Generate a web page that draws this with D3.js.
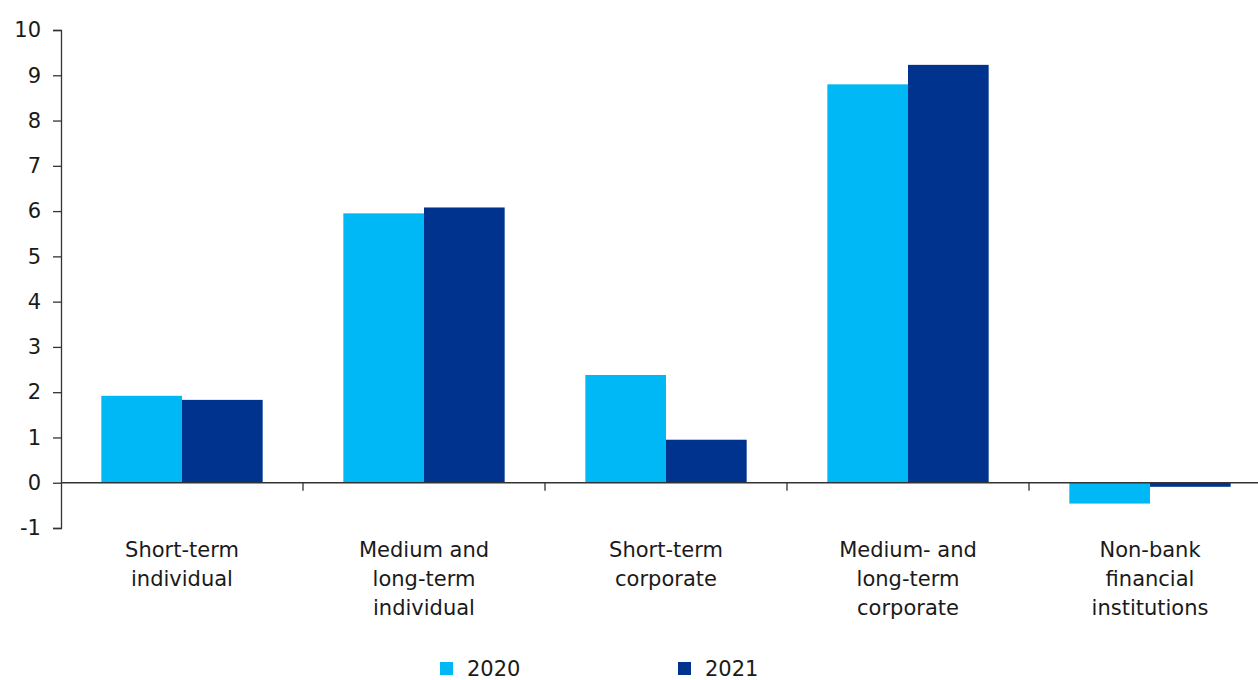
<!DOCTYPE html>
<html>
<head>
<meta charset="utf-8">
<script src="https://cdn.jsdelivr.net/npm/d3@7"></script>
<style>
  html, body { margin: 0; padding: 0; background: #fff; }
  svg { display: block; }
  text { font-family: "DejaVu Sans", sans-serif; fill: #1a1a1a; }
</style>
</head>
<body>
<svg id="chart" width="1258" height="680"></svg>
<script>
// Loan categories (multi-line labels) and yearly growth values
const categories = [
  ["Short-term", "individual"],
  ["Medium and", "long-term", "individual"],
  ["Short-term", "corporate"],
  ["Medium- and", "long-term", "corporate"],
  ["Non-bank", "financial", "institutions"]
];
const seriesNames = ["2020", "2021"];
const values2020 = [1.92, 5.95, 2.38, 8.80, -0.46];
const values2021 = [1.83, 6.08, 0.95, 9.23, -0.09];
const yTicks = [-1, 0, 1, 2, 3, 4, 5, 6, 7, 8, 9, 10];
const colors = ["#00B8F5", "#00338D"];

const svg = d3.select("#chart");
const catKeys = categories.map(c => c.join(" "));
const seriesValues = [values2020, values2021];

const x0 = d3.scaleBand().domain(catKeys).range([61, 1271]).padding(0);
const x1 = d3.scaleBand().domain(seriesNames)
  .range([0, x0.bandwidth()]).paddingInner(0).paddingOuter(0.5);
const y = d3.scaleLinear().domain([-1, 10]).range([528, 30]);

// Bars
const groups = svg.append("g").selectAll("g")
  .data(catKeys)
  .join("g")
  .attr("transform", d => `translate(${x0(d)},0)`);

groups.selectAll("rect")
  .data((d, i) => seriesNames.map((s, j) => ({ s, v: seriesValues[j][i], j })))
  .join("rect")
  .attr("x", d => x1(d.s))
  .attr("width", x1.bandwidth())
  .attr("y", d => y(Math.max(0, d.v)))
  .attr("height", d => Math.abs(y(d.v) - y(0)))
  .attr("fill", d => colors[d.j]);

// Y axis (plain hyphen for negatives)
const yAxis = d3.axisLeft(y).tickValues(yTicks).tickSize(8).tickPadding(12)
  .tickFormat(d => String(d));
const yg = svg.append("g").attr("transform", "translate(61,0)").call(yAxis);
yg.select(".domain").attr("stroke", "#333").attr("stroke-width", 1.3);
yg.selectAll(".tick line").attr("stroke", "#333").attr("stroke-width", 1.3);
yg.selectAll(".tick text").style("font-size", "21px").style("font-family", "DejaVu Sans")
  .attr("fill", "#1a1a1a");

// X axis (zero line) with boundary ticks between categories
const xg = svg.append("g");
xg.append("line")
  .attr("x1", 61).attr("x2", 1271)
  .attr("y1", y(0)).attr("y2", y(0))
  .attr("stroke", "#333").attr("stroke-width", 1.3);
xg.selectAll("line.bound")
  .data(catKeys.slice(1))
  .join("line")
  .attr("class", "bound")
  .attr("x1", d => x0(d)).attr("x2", d => x0(d))
  .attr("y1", y(0)).attr("y2", y(0) + 8)
  .attr("stroke", "#333").attr("stroke-width", 1.3);

// Category labels
const labels = svg.append("g").selectAll("text")
  .data(categories)
  .join("text")
  .attr("text-anchor", "middle")
  .style("font-size", "21px");
labels.each(function(lines, i) {
  const cx = x0(catKeys[i]) + x0.bandwidth() / 2;
  d3.select(this).selectAll("tspan")
    .data(lines)
    .join("tspan")
    .attr("x", cx)
    .attr("y", (d, k) => 557 + k * 29)
    .text(d => d);
});

// Legend
const legend = svg.append("g");
const legendX = [440, 678];
seriesNames.forEach((s, i) => {
  legend.append("rect")
    .attr("x", legendX[i]).attr("y", 662)
    .attr("width", 13).attr("height", 13)
    .attr("fill", colors[i]);
  legend.append("text")
    .attr("x", legendX[i] + 27).attr("y", 676)
    .style("font-size", "21px")
    .text(s);
});
</script>
</body>
</html>
